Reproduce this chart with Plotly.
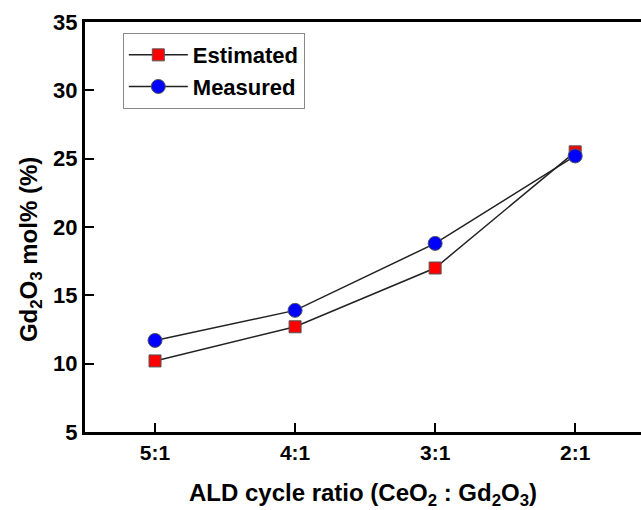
import plotly.graph_objects as go

categories = ["5:1", "4:1", "3:1", "2:1"]
estimated = [10.2, 12.7, 17.0, 25.5]
measured = [11.7, 13.9, 18.8, 25.2]
y_ticks = [5, 10, 15, 20, 25, 30, 35]

FONT = "Arial, Liberation Sans, sans-serif"

fig = go.Figure()
fig.add_trace(go.Scatter(
    x=list(range(len(categories))), y=estimated, name="Estimated",
    mode="lines+markers",
    line=dict(color="#222222", width=1.5),
    marker=dict(symbol="square", size=12, color="#ff0000",
                line=dict(color="#555555", width=1)),
))
fig.add_trace(go.Scatter(
    x=list(range(len(categories))), y=measured, name="Measured",
    mode="lines+markers",
    line=dict(color="#222222", width=1.5),
    marker=dict(symbol="circle", size=14, color="#0000ff",
                line=dict(color="#555555", width=1)),
))

fig.update_layout(
    width=641, height=510,
    margin=dict(l=85, r=0, t=22, b=78, autoexpand=False),
    paper_bgcolor="white", plot_bgcolor="white",
    font=dict(family=FONT, color="black"),
    showlegend=True,
    legend=dict(
        x=0.068, y=0.973, xanchor="left", yanchor="top",
        bgcolor="white", bordercolor="#888888", borderwidth=1,
        font=dict(family=FONT, size=22, color="black", weight="bold"),
        tracegroupgap=0, itemwidth=59,
    ),
    annotations=[dict(
        text="Gd<sub>2</sub>O<sub>3</sub> mol% (%)",
        xref="paper", yref="paper", x=-0.099, y=0.446,
        xanchor="center", yanchor="middle", textangle=-90, showarrow=False,
        font=dict(family=FONT, size=24, color="black", weight="bold"),
    )],
)
fig.update_xaxes(
    range=[-0.5, 3.47], automargin=False,
    tickmode="array", tickvals=list(range(len(categories))), ticktext=categories,
    ticks="inside", ticklen=9, tickwidth=2, tickcolor="black",
    showline=True, linewidth=3, linecolor="black", mirror=True,
    showgrid=False, zeroline=False,
    tickfont=dict(family=FONT, size=21, color="black", weight="bold"),
    title=dict(text="ALD cycle ratio (CeO<sub>2</sub> : Gd<sub>2</sub>O<sub>3</sub>)",
               font=dict(family=FONT, size=24, color="black", weight="bold"),
               standoff=22),
)
fig.update_yaxes(
    range=[5, 35], automargin=False,
    tickmode="array", tickvals=y_ticks,
    ticks="inside", ticklen=9, tickwidth=2, tickcolor="black",
    showline=True, linewidth=3, linecolor="black", mirror=False,
    showgrid=False, zeroline=False,
    tickfont=dict(family=FONT, size=22, color="black", weight="bold"),
)

fig.write_html(
    "out.html",
    config={"displayModeBar": False},
    post_script="document.body.style.margin='0';document.body.style.overflow='hidden';",
)
